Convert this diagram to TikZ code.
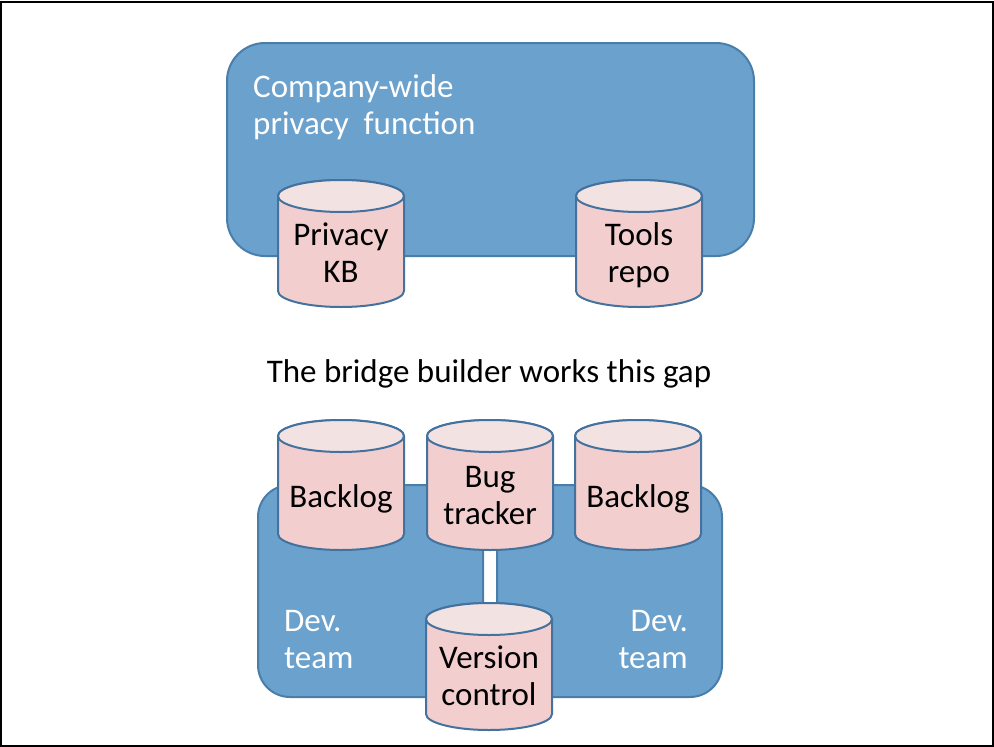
\documentclass[tikz,border=0pt]{standalone}
\usepackage{fontspec}
\setmainfont{Carlito}

\definecolor{teamfill}{RGB}{107,161,205}
\definecolor{teamline}{RGB}{74,126,170}
\definecolor{cylline}{RGB}{68,114,158}
\definecolor{cylbodyfill}{RGB}{242,206,206}
\definecolor{cyltopfill}{RGB}{243,226,226}

\tikzset{
  teambox/.style={fill=teamfill, draw=teamline, line width=2pt},
  cylbody/.style={fill=cylbodyfill, draw=cylline, line width=2pt},
  cyltop/.style={fill=cyltopfill, draw=cylline, line width=2pt},
  cyltext/.style={anchor=base, inner sep=0pt, text=black},
  boxtext/.style={inner sep=0pt, text=white},
}

% database cylinder: name, centre x, top y, bottom y, first baseline, label
\newcommand\dbcyl[6]{%
  \path[cylbody] (#2-63,#3+16) -- (#2-63,#4-16)
      arc[start angle=180, end angle=360, x radius=63pt, y radius=16pt]
      -- (#2+63,#3+16)
      arc[start angle=0, end angle=180, x radius=63pt, y radius=16pt] -- cycle;
  \path[cyltop] (#2,#3+16) ellipse[x radius=63pt, y radius=16pt];
  \node[cyltext] (#1) at (#2,#5) {\begin{tabular}[t]{@{}c@{}}#6\end{tabular}};
}

\begin{document}
\begin{tikzpicture}[x=1pt, y=-1pt, font=\fontsize{33}{37.5}\selectfont]
  \useasboundingbox (0,0) rectangle (994,747);
  \draw[line width=2.2pt] (1,2) rectangle (993,746);

  % privacy function container
  \draw[teambox, rounded corners=38pt] (227,43) rectangle (754,256);
  \node[boxtext, anchor=base west] (privfn) at (253,97)
    {\begin{tabular}[t]{@{}l@{}}Company-wide\\privacy~~function\end{tabular}};

  \dbcyl{kb}{341}{180}{307}{245}{Privacy\\KB}
  \dbcyl{tools}{639}{180}{307}{245}{Tools\\repo}

  % gap label
  \node[cyltext] (gap) at (489,382) {The bridge builder works this gap};

  % the two development teams
  \draw[teambox, rounded corners=32pt] (258,485) rectangle (483,697);
  \draw[teambox, rounded corners=32pt] (497,485) rectangle (722,697);
  \node[boxtext, anchor=base west] (teamA) at (284,631)
    {\begin{tabular}[t]{@{}l@{}}Dev.\\team\end{tabular}};
  \node[boxtext, anchor=base east] (teamB) at (688,631)
    {\begin{tabular}[t]{@{}r@{}}Dev.\\team\end{tabular}};

  \dbcyl{backlogA}{341}{420}{550}{507}{Backlog}
  \dbcyl{bugs}{490}{420}{550}{487}{Bug\\tracker}
  \dbcyl{backlogB}{638}{420}{550}{507}{Backlog}
  \dbcyl{vcs}{489}{603}{730}{668}{Version\\control}
\end{tikzpicture}
\end{document}
